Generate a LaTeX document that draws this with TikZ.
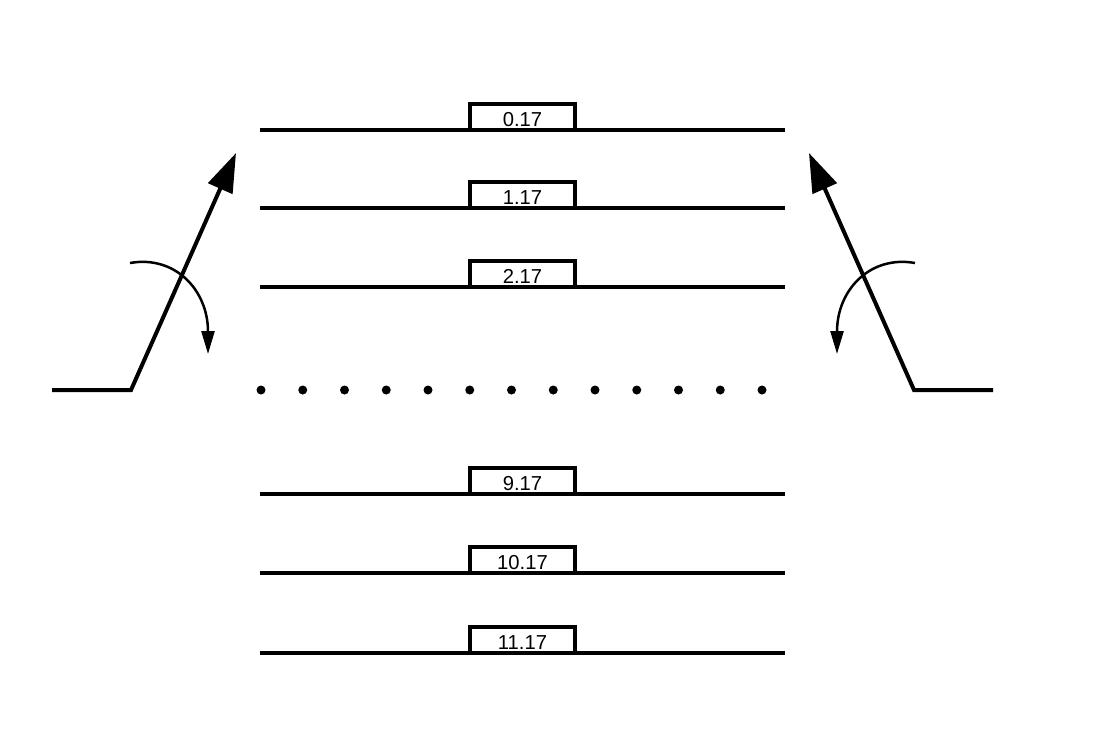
\documentclass[tikz,border=0pt]{standalone}
\usepackage{fontspec}
\setmainfont{Liberation Sans}
\usetikzlibrary{arrows.meta}
\begin{document}
\begin{tikzpicture}[x=0.02cm,y=-0.02cm,
  track/.style={line width=0.08cm, line cap=butt},
  valbox/.style={draw, line width=0.08cm, minimum width=2.1cm, minimum height=0.52cm, inner sep=0pt},
  vallabel/.style={anchor=base, inner sep=0pt, font=\fontsize{11.5}{13}\selectfont},
  bigarrow/.style={line width=0.08cm, -{Triangle[length=0.78cm,width=0.52cm]}},
  turnarrow/.style={line width=0.05cm, -{Triangle[length=0.46cm,width=0.26cm]}},
  dotmark/.style={circle, fill=black, inner sep=0pt, minimum size=0.18cm}
]
\fill[white] (0,0) rectangle (1094,748);
\useasboundingbox (0,0) rectangle (1094,748);

% rows with value boxes
\foreach \v/\y in {0/130,1/208,2/287,9/494,10/573,11/653} {
  \coordinate (L\v) at (260,\y);
  \coordinate (R\v) at (785,\y);
  \node[valbox] (B\v) at (522.5,\y-13) {};
  \draw[track] (L\v) -- (R\v);
  \node[vallabel] (T\v) at (522.5,\y-4) {\v.17};
}

% dots
\foreach \i in {0,...,12} {
  \node[dotmark] (D\i) at (261+41.75*\i,390) {};
}

% left arrow
\coordinate (lb) at (52,390);
\coordinate (lk) at (131,390);
\coordinate (lt) at (236,153);
\draw[bigarrow] (lb) -- (lk) -- (lt);
\coordinate (lcs) at (130,263);
\coordinate (lce) at (208,354);
\draw[turnarrow] (lcs) .. controls (175,255) and (208,290) .. (lce);

% right arrow
\coordinate (rb) at (993,390);
\coordinate (rk) at (914,390);
\coordinate (rt) at (809,153);
\draw[bigarrow] (rb) -- (rk) -- (rt);
\coordinate (rcs) at (915,263);
\coordinate (rce) at (837,354);
\draw[turnarrow] (rcs) .. controls (870,255) and (837,290) .. (rce);
\end{tikzpicture}
\end{document}
